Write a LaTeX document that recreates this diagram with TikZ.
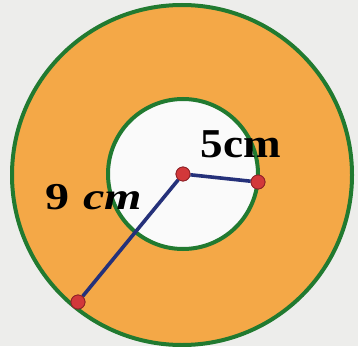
\documentclass[tikz,border=0pt]{standalone}
\usepackage{fontspec}
\setmainfont{Liberation Serif}
\definecolor{bgc}{HTML}{EDEDEB}
\definecolor{ringc}{HTML}{F4A847}
\definecolor{greenc}{HTML}{217A30}
\definecolor{bluec}{HTML}{25317A}
\definecolor{redc}{HTML}{D2383A}
\definecolor{redb}{HTML}{8E2228}
\begin{document}
\begin{tikzpicture}[x=1pt,y=1pt,
  rim/.style={draw=greenc,line width=4pt},
  radius line/.style={draw=bluec,line width=3.6pt},
  dotpt/.style={circle,fill=redc,draw=redb,line width=0.8pt,minimum size=14pt,inner sep=0pt},
  lbl/.style={font=\bfseries\fontsize{41}{41}\selectfont,inner sep=0pt,xscale=1.1}]
\useasboundingbox[fill=bgc] (0,0) rectangle (358,346);
\coordinate (O) at (182,171);
\fill[ringc] (O) circle[radius=170];
\fill[white!96!gray] (183,172) circle[radius=75];
\draw[rim] (O) circle[radius=170];
\draw[rim] (183,172) circle[radius=75];
\node[dotpt] (c) at (183,172) {};
\node[dotpt] (a) at (258,164) {};
\node[dotpt] (b) at (78,44) {};
\draw[radius line] (c) -- (a);
\draw[radius line] (c) -- (b);
\node[dotpt] at (c) {};
\node[dotpt] at (a) {};
\node[dotpt] at (b) {};
\node[lbl] (t5) at (241,202) {5cm};
\node[lbl,font=\bfseries\fontsize{38}{38}\selectfont,xscale=1.15] (t9) at (94,149) {9\hspace{0.28em}\textit{cm}};
\end{tikzpicture}
\end{document}
